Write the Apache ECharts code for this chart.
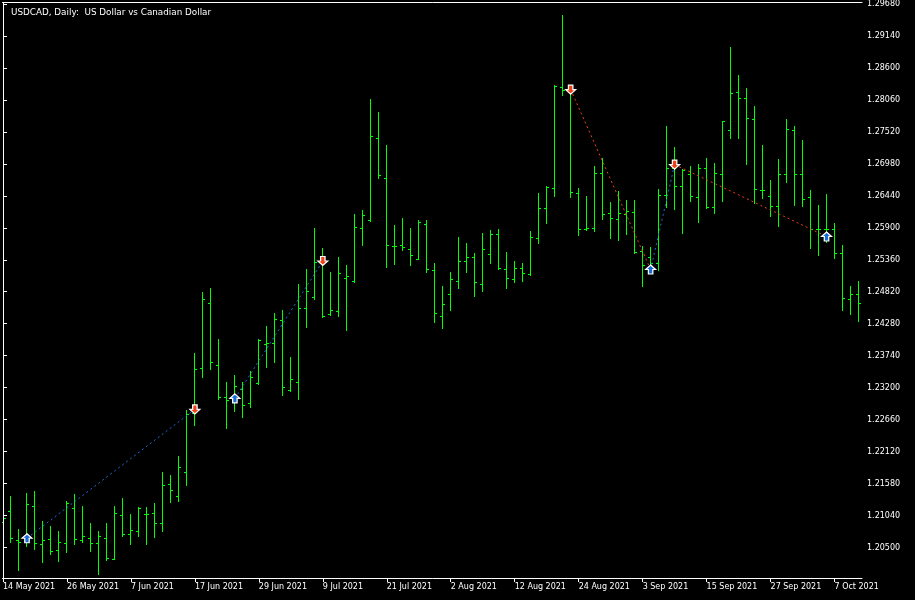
<!DOCTYPE html>
<html>
<head>
<meta charset="utf-8">
<script src="https://cdn.jsdelivr.net/npm/echarts@6/dist/echarts.min.js"></script>
<style>
html,body{margin:0;padding:0;background:#000;}
#chart{width:915px;height:600px;}
</style>
</head>
<body>
<div id="chart"></div>
<script>
var dates = [
'2021-05-14','2021-05-17','2021-05-18','2021-05-19','2021-05-20','2021-05-21','2021-05-24','2021-05-25','2021-05-26','2021-05-27','2021-05-28','2021-05-31',
'2021-06-01','2021-06-02','2021-06-03','2021-06-04','2021-06-07','2021-06-08','2021-06-09','2021-06-10','2021-06-11','2021-06-14','2021-06-15','2021-06-16','2021-06-17','2021-06-18','2021-06-21','2021-06-22','2021-06-23','2021-06-24','2021-06-25','2021-06-28','2021-06-29','2021-06-30',
'2021-07-01','2021-07-02','2021-07-05','2021-07-06','2021-07-07','2021-07-08','2021-07-09','2021-07-12','2021-07-13','2021-07-14','2021-07-15','2021-07-16','2021-07-19','2021-07-20','2021-07-21','2021-07-22','2021-07-23','2021-07-26','2021-07-27','2021-07-28','2021-07-29','2021-07-30',
'2021-08-02','2021-08-03','2021-08-04','2021-08-05','2021-08-06','2021-08-09','2021-08-10','2021-08-11','2021-08-12','2021-08-13','2021-08-16','2021-08-17','2021-08-18','2021-08-19','2021-08-20','2021-08-23','2021-08-24','2021-08-25','2021-08-26','2021-08-27','2021-08-30','2021-08-31',
'2021-09-01','2021-09-02','2021-09-03','2021-09-06','2021-09-07','2021-09-08','2021-09-09','2021-09-10','2021-09-13','2021-09-14','2021-09-15','2021-09-16','2021-09-17','2021-09-20','2021-09-21','2021-09-22','2021-09-23','2021-09-24','2021-09-27','2021-09-28','2021-09-29','2021-09-30',
'2021-10-01','2021-10-04','2021-10-05','2021-10-06','2021-10-07','2021-10-08','2021-10-11','2021-10-12'
];

var open = [
1.20927,1.21124,1.20635,1.20674,1.21209,1.20556,1.20652,1.20466,1.20584,1.21163,
1.20635,1.20669,1.20584,1.20669,1.20314,1.21057,1.20736,1.20787,1.21074,1.21091,
1.20922,1.21580,1.21378,1.21783,1.22766,1.23538,1.24634,1.23588,1.23048,1.22986,
1.23171,1.22947,1.23284,1.23943,1.23959,1.24348,1.23166,1.23301,1.24550,1.24736,
1.25314,1.24449,1.24488,1.25056,1.25006,1.25900,1.26035,1.27419,1.26744,1.25596,
1.25613,1.25546,1.25377,1.25968,1.25191,1.24415,1.24786,1.25006,1.25343,1.25411,
1.24955,1.25461,1.25799,1.25208,1.25039,1.25225,1.25124,1.25731,1.26238,1.26575,
1.28279,1.28229,1.26491,1.25883,1.25900,1.26828,1.26153,1.26052,1.26136,1.26170,
1.25512,1.25411,1.25309,1.26457,1.26913,1.26609,1.26811,1.26423,1.26913,1.26254,
1.26811,1.27554,1.28195,1.28094,1.27739,1.26541,1.26440,1.26271,1.26811,1.27554,
1.26811,1.26423,1.25883,1.25883,1.25876,1.25478,1.24702,1.24786
];
var high = [
1.21163,1.21366,1.20809,1.21428,1.21450,1.20944,1.20859,1.20775,1.21281,1.21411,
1.21197,1.20910,1.20775,1.20922,1.21197,1.21332,1.21062,1.21180,1.21180,1.21248,
1.21771,1.21720,1.22041,1.22829,1.23779,1.24808,1.24876,1.24027,1.23289,1.23408,
1.23289,1.23480,1.24027,1.24234,1.24454,1.24504,1.23711,1.24943,1.25196,1.25905,
1.25563,1.25146,1.25399,1.25264,1.26141,1.26209,1.28082,1.27863,1.27306,1.25939,
1.26074,1.25905,1.26040,1.26040,1.25298,1.24909,1.25146,1.25753,1.25635,1.25478,
1.25804,1.25871,1.25888,1.25483,1.25331,1.25314,1.25838,1.26496,1.26614,1.28313,
1.29499,1.28268,1.26580,1.26445,1.26951,1.27086,1.26344,1.26529,1.26378,1.26378,
1.25601,1.25584,1.26558,1.27621,1.27272,1.26896,1.26951,1.26985,1.27086,1.27002,
1.27711,1.28959,1.28487,1.28268,1.27964,1.27306,1.26715,1.27069,1.27744,1.27626,
1.27390,1.26546,1.26293,1.26479,1.25989,1.25618,1.24909,1.24994
];
var low = [
1.20826,1.20595,1.20117,1.20527,1.20471,1.20257,1.20392,1.20274,1.20426,1.20561,
1.20595,1.20443,1.20061,1.20281,1.20298,1.20696,1.20561,1.20696,1.20561,1.20679,
1.20780,1.21270,1.21286,1.21556,1.22564,1.23379,1.23514,1.23014,1.22518,1.22805,
1.22704,1.22873,1.23261,1.23543,1.23632,1.23075,1.23143,1.23008,1.24223,1.24695,
1.24391,1.24420,1.24408,1.24172,1.24990,1.25606,1.26023,1.26737,1.25235,1.25286,
1.25522,1.25269,1.25370,1.25151,1.24307,1.24206,1.24510,1.24881,1.25151,1.24746,
1.24830,1.25303,1.25201,1.24881,1.24982,1.24999,1.25100,1.25640,1.25978,1.26433,
1.28138,1.26416,1.25775,1.25860,1.25843,1.26045,1.25725,1.25691,1.25792,1.25471,
1.24915,1.25146,1.25191,1.26248,1.26214,1.25809,1.26361,1.25995,1.26231,1.26146,
1.26349,1.27412,1.27412,1.26973,1.26315,1.26399,1.26096,1.25927,1.26670,1.26281,
1.26265,1.25556,1.25438,1.25652,1.25387,1.24510,1.24442,1.24324
];
var close = [
1.20994,1.20669,1.20601,1.21243,1.20568,1.20635,1.20449,1.20601,1.21248,1.20652,
1.20703,1.20568,1.20691,1.20331,1.21091,1.20736,1.20804,1.21163,1.21074,1.20922,
1.21563,1.21479,1.21867,1.22761,1.23521,1.24702,1.23627,1.23048,1.22986,1.23222,
1.22913,1.23386,1.24010,1.23959,1.24364,1.23217,1.23352,1.24550,1.24837,1.25326,
1.24415,1.24504,1.25141,1.25090,1.25917,1.26119,1.27453,1.26794,1.25613,1.25596,
1.25579,1.25444,1.26001,1.25208,1.24466,1.24618,1.25039,1.25343,1.25411,1.24989,
1.25546,1.25799,1.25225,1.25056,1.25225,1.25141,1.25748,1.26238,1.26592,1.28296,
1.28229,1.26508,1.25883,1.25900,1.26828,1.26136,1.26069,1.26153,1.26187,1.25495,
1.25276,1.25298,1.26457,1.26913,1.26609,1.26879,1.26440,1.26913,1.26254,1.26828,
1.27706,1.28178,1.28094,1.27756,1.26558,1.26541,1.26271,1.26811,1.27571,1.26811,
1.26389,1.25883,1.25883,1.25877,1.25478,1.24719,1.24786,1.24634
];

// signal arrows (bar index, price, direction)
var markerIdx   = [3, 24, 29, 40, 71, 81, 84, 103];
var markerPrice = [1.20657, 1.22834, 1.23019, 1.25340, 1.28234, 1.25196, 1.26968, 1.25753];
var markerDir   = ['up','down','up','down','down','up','down','up'];
// dotted connecting segments: [from marker, to marker]
var segments = [[0,1],[2,3],[4,5],[5,6],[6,7]];

var priceTicks = [1.20500,1.21040,1.21580,1.22120,1.22660,1.23200,1.23740,1.24280,1.24820,1.25360,1.25900,1.26440,1.26980,1.27520,1.28060,1.28600,1.29140,1.29680];
var dateTickIdx = [0,8,16,24,32,40,48,56,64,72,80,88,96,104];
var monthNames = ['Jan','Feb','Mar','Apr','May','Jun','Jul','Aug','Sep','Oct','Nov','Dec'];
var titleText = 'USDCAD, Daily:  US Dollar vs Canadian Dollar';

function fmtDate(s){
  var p = s.split('-');
  return parseInt(p[2],10) + ' ' + monthNames[parseInt(p[1],10)-1] + ' ' + p[0];
}

var ohlc = dates.map(function(d,i){ return [i, open[i], high[i], low[i], close[i]]; });

var FONT = 'DejaVu Sans';
var BAR = '#00ff00';
var BLUE = '#1a6cd6';
var RED = '#f0401a';

var upPath = 'path://M4.5,0 L9,4 L6.5,4 L6.5,8 L2.5,8 L2.5,4 L0,4 Z';
var downPath = 'path://M2.5,0 L6.5,0 L6.5,4 L9,4 L4.5,8 L0,4 L2.5,4 Z';

var series = [{
  type: 'custom',
  clip: true,
  xAxisIndex: 0, yAxisIndex: 0,
  data: ohlc,
  encode: { x: 0, y: [1,2,3,4] },
  renderItem: function(params, api){
    var i = api.value(0);
    var pO = api.coord([i, api.value(1)]);
    var pH = api.coord([i, api.value(2)]);
    var pL = api.coord([i, api.value(3)]);
    var pC = api.coord([i, api.value(4)]);
    var x = Math.floor(pO[0]) + 0.5;
    var yH = Math.round(pH[1]), yL = Math.round(pL[1]);
    var yO = Math.round(pO[1]) + 0.5, yC = Math.round(pC[1]) + 0.5;
    var st = { stroke: BAR, lineWidth: 1 };
    return { type: 'group', children: [
      { type: 'line', shape: { x1: x, y1: yH, x2: x, y2: yL + 1 }, style: st },
      { type: 'line', shape: { x1: x - 2.5, y1: yO, x2: x, y2: yO }, style: st },
      { type: 'line', shape: { x1: x, y1: yC, x2: x + 2.5, y2: yC }, style: st }
    ]};
  },
  z: 2
}];

segments.forEach(function(sg){
  var a = sg[0], b = sg[1];
  var rising = markerPrice[b] > markerPrice[a];
  series.push({
    type: 'line',
    xAxisIndex: 0, yAxisIndex: 0,
    data: [[markerIdx[a], markerPrice[a]], [markerIdx[b], markerPrice[b]]],
    symbol: 'none',
    silent: true,
    lineStyle: { color: rising ? BLUE : RED, width: 1, type: [2, 3] },
    z: 3
  });
});

series.push({
  type: 'scatter',
  xAxisIndex: 0, yAxisIndex: 0,
  data: markerIdx.map(function(m,k){
    return {
      value: [m, markerPrice[k]],
      symbol: markerDir[k] === 'up' ? upPath : downPath,
      itemStyle: { color: markerDir[k] === 'up' ? BLUE : RED }
    };
  }),
  symbolSize: [10, 9],
  itemStyle: { borderColor: '#ffffff', borderWidth: 1.2, opacity: 1 },
  z: 4
});

var chart = echarts.init(document.getElementById('chart'), null, { renderer: 'canvas' });
chart.setOption({
  backgroundColor: '#000000',
  animation: false,
  title: {
    text: titleText,
    left: 6, top: 3,
    textStyle: { color: '#ffffff', fontSize: 8.8, fontWeight: 'normal', fontFamily: FONT }
  },
  grid: { left: 2, top: 2, width: 860, height: 576, containLabel: false },
  xAxis: [{
    type: 'value', position: 'bottom',
    min: -0.0625, max: 107.4375,
    splitLine: { show: false },
    axisLine: { show: true, lineStyle: { color: '#ffffff', width: 1 } },
    axisTick: { show: true, length: 4, lineStyle: { color: '#ffffff' }, customValues: dateTickIdx },
    axisLabel: {
      show: true, customValues: dateTickIdx, color: '#ffffff', fontSize: 8, fontFamily: FONT,
      align: 'left', margin: 5,
      formatter: function(v){ return fmtDate(dates[Math.round(v)]); }
    }
  }, {
    type: 'value', position: 'top',
    min: -0.0625, max: 107.4375,
    splitLine: { show: false },
    axisLine: { show: true, lineStyle: { color: '#ffffff', width: 1 } },
    axisTick: { show: false }, axisLabel: { show: false }
  }],
  yAxis: [{
    type: 'value', position: 'right',
    min: 1.199853, max: 1.297053,
    splitLine: { show: false },
    axisLine: { show: true, lineStyle: { color: '#ffffff', width: 1 } },
    axisTick: { show: true, length: 4, lineStyle: { color: '#ffffff' }, customValues: priceTicks },
    axisLabel: {
      show: true, customValues: priceTicks, color: '#ffffff', fontSize: 8, fontFamily: FONT,
      margin: 5, formatter: function(v){ return v.toFixed(5); }
    }
  }, {
    type: 'value', position: 'left',
    min: 1.199853, max: 1.297053,
    z: 10,
    splitLine: { show: false },
    axisLine: { show: true, lineStyle: { color: '#ffffff', width: 1 } },
    axisTick: { show: false }, axisLabel: { show: false }
  }],
  series: series
});
</script>
</body>
</html>
